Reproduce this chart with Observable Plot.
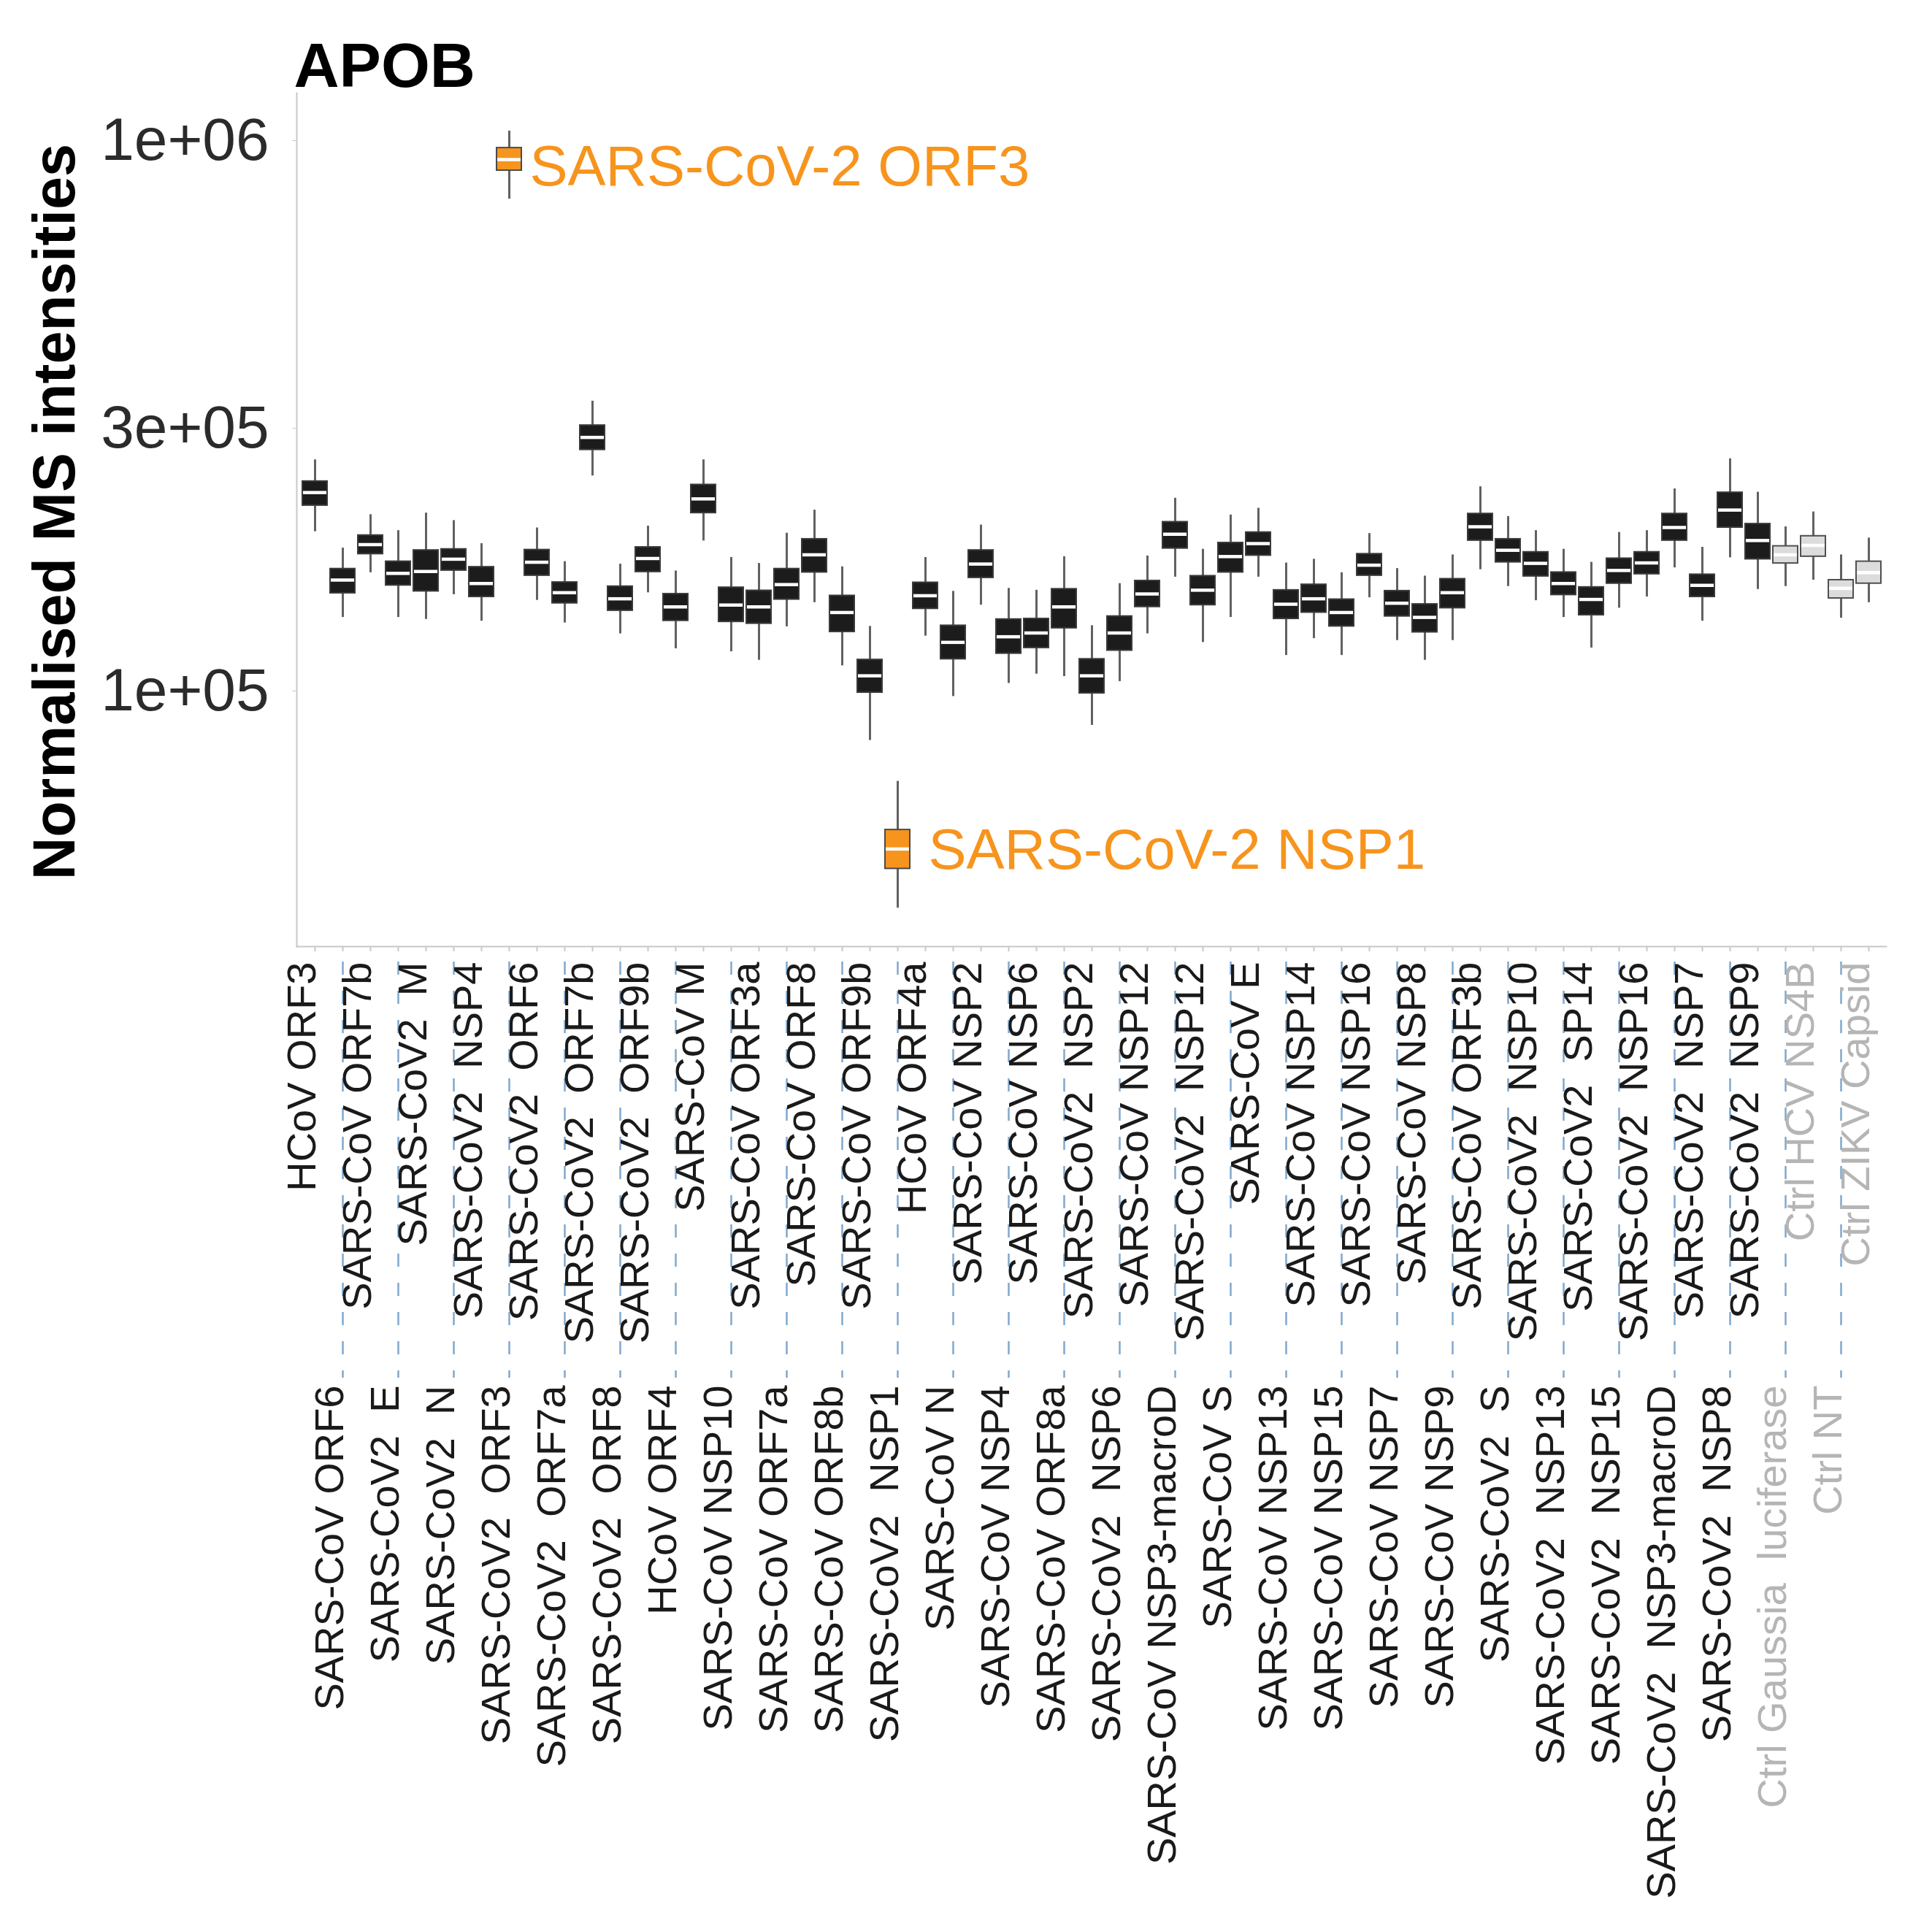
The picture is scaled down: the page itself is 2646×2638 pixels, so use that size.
<!DOCTYPE html>
<html>
<head>
<meta charset="utf-8">
<script src="https://cdn.jsdelivr.net/npm/d3@7"></script>
<script src="https://cdn.jsdelivr.net/npm/@observablehq/plot@0.6"></script>
<style>
  html, body { margin: 0; padding: 0; background: #ffffff; }
  svg text { white-space: pre; }
</style>
</head>
<body>
<div id="chart"></div>
<script>
// ---------------- data ----------------
const chartTitle = "APOB";
const yTitle = "Normalised MS intensities";

const categories = [
  "HCoV ORF3", "SARS-CoV ORF6", "SARS-CoV ORF7b", "SARS-CoV2  E", "SARS-CoV2  M",
  "SARS-CoV2  N", "SARS-CoV2  NSP4", "SARS-CoV2  ORF3", "SARS-CoV2  ORF6", "SARS-CoV2  ORF7a",
  "SARS-CoV2  ORF7b", "SARS-CoV2  ORF8", "SARS-CoV2  ORF9b", "HCoV ORF4", "SARS-CoV M",
  "SARS-CoV NSP10", "SARS-CoV ORF3a", "SARS-CoV ORF7a", "SARS-CoV ORF8", "SARS-CoV ORF8b",
  "SARS-CoV ORF9b", "SARS-CoV2  NSP1", "HCoV ORF4a", "SARS-CoV N", "SARS-CoV NSP2",
  "SARS-CoV NSP4", "SARS-CoV NSP6", "SARS-CoV ORF8a", "SARS-CoV2  NSP2", "SARS-CoV2  NSP6",
  "SARS-CoV NSP12", "SARS-CoV NSP3-macroD", "SARS-CoV2  NSP12", "SARS-CoV S", "SARS-CoV E",
  "SARS-CoV NSP13", "SARS-CoV NSP14", "SARS-CoV NSP15", "SARS-CoV NSP16", "SARS-CoV NSP7",
  "SARS-CoV NSP8", "SARS-CoV NSP9", "SARS-CoV ORF3b", "SARS-CoV2  S", "SARS-CoV2  NSP10",
  "SARS-CoV2  NSP13", "SARS-CoV2  SP14", "SARS-CoV2  NSP15", "SARS-CoV2  NSP16", "SARS-CoV2  NSP3-macroD",
  "SARS-CoV2  NSP7", "SARS-CoV2  NSP8", "SARS-CoV2  NSP9", "Ctrl Gaussia  luciferase", "Ctrl HCV NS4B",
  "Ctrl NT", "Ctrl ZIKV Capsid"
];

const whiskerHigh = [
  263000, 181800, 209100, 195600, 210500, 204000, 185200, 1041000, 197800, 171800,
  336200, 170000, 199300, 165200, 263000, 174800, 170500, 193500, 213100, 168100,
  131000, 68500, 174800, 151700, 200200, 153600, 152400, 175400, 131400, 156700,
  175900, 224000, 180900, 208800, 214800, 170800, 173500, 164000, 193200, 166900,
  161700, 176700, 235000, 207500, 195600, 180900, 171300, 194100, 195600, 232900,
  182400, 264200, 229700, 198700, 211500, 176700, 189600
];
const upperQuartile = [
  240300, 166600, 191700, 171800, 180100, 180900, 167900, 969800, 180400, 157500,
  303700, 154800, 182400, 150000, 236900, 154100, 152100, 166600, 188700, 148900,
  113900, 55900, 157300, 131400, 180100, 134900, 135200, 153100, 114200, 136600,
  158500, 202700, 161700, 185800, 194100, 152400, 156000, 146600, 177300, 151900,
  143700, 159700, 209800, 188700, 178700, 164200, 154300, 174000, 178700, 209800,
  162700, 229300, 201100, 183200, 191100, 159000, 171800
];
const medianValue = [
  229300, 159000, 184400, 163500, 164800, 173500, 156700, 923700, 171300, 150800,
  288800, 147000, 174000, 142100, 223300, 143200, 142100, 156000, 176700, 138800,
  106500, 51600, 148900, 122500, 170000, 125400, 127400, 142100, 106500, 127400,
  150000, 192600, 152400, 175400, 185200, 143700, 147000, 138800, 169200, 144300,
  136000, 150800, 198700, 180100, 170500, 156700, 146600, 165500, 170800, 198100,
  155500, 213100, 187600, 176700, 183800, 153600, 164000
];
const lowerQuartile = [
  217200, 150500, 177300, 155500, 151700, 165500, 148200, 882300, 162000, 144300,
  274200, 139900, 164500, 134100, 210500, 133500, 132500, 146600, 164200, 128000,
  99300, 47500, 141000, 114200, 160500, 116900, 119700, 130000, 99000, 118400,
  142100, 181500, 143200, 164200, 176200, 135200, 138800, 131000, 162000, 136600,
  127800, 141400, 187600, 171300, 161500, 149400, 137300, 156700, 163000, 187600,
  148200, 198100, 173500, 170500, 175400, 147300, 156700
];
const whiskerLow = [
  194700, 136000, 164000, 136000, 134900, 149600, 133900, 783100, 146100, 132900,
  245900, 127000, 150800, 119300, 187300, 117800, 113700, 130800, 144700, 111100,
  81300, 40300, 125800, 97700, 143200, 103200, 107300, 106200, 86600, 104000,
  127000, 161000, 122500, 136000, 161000, 116000, 124500, 116000, 147700, 123500,
  113700, 123500, 166100, 154800, 145900, 136000, 119700, 141400, 148200, 167400,
  133900, 174600, 152900, 154800, 159000, 135600, 144700
];

const highlightedCategories = ["SARS-CoV2  ORF3", "SARS-CoV2  NSP1"];
const annotationTexts = ["SARS-CoV-2 ORF3", "SARS-CoV-2 NSP1"];

const yDomain = [34300, 1220000];
const yTicks = [100000, 300000, 1000000];
const yTickLabels = ["1e+05", "3e+05", "1e+06"];

// ---------------- derived ----------------
const isControl = c => c.startsWith("Ctrl");
const groupOf = c => highlightedCategories.includes(c) ? "highlight" : isControl(c) ? "control" : "normal";
const stats = categories.map((cat, i) => ({
  cat, hi: whiskerHigh[i], q3: upperQuartile[i], med: medianValue[i],
  q1: lowerQuartile[i], lo: whiskerLow[i], group: groupOf(cat)
}));
const topRow = categories.filter((c, i) => i % 2 === 0);
const bottomRow = categories.filter((c, i) => i % 2 === 1);
const annotations = highlightedCategories.map((cat, i) => ({
  cat, text: annotationTexts[i], med: stats.find(d => d.cat === cat).med
}));

const ORANGE = "#F7941D";
const LABEL = "#1a1a1a";
const CTRL_LABEL = "#b5b5b5";
const AXIS = "#c8c8c8";
const FONT = "'Liberation Sans', Arial, Helvetica, sans-serif";
const labelSize = 56;

const chart = Plot.plot({
  width: 2646,
  height: 2638,
  marginTop: 127,
  marginLeft: 406,
  marginRight: 63,
  marginBottom: 1342,
  style: { fontFamily: FONT, background: "#ffffff", overflow: "visible" },
  x: { type: "band", domain: categories, paddingInner: 0.107, paddingOuter: 0.153, label: null },
  y: { type: "log", domain: yDomain, label: null },
  marks: [
    Plot.frame({ anchor: "left", stroke: AXIS, strokeWidth: 2 }),
    Plot.frame({ anchor: "bottom", stroke: AXIS, strokeWidth: 2 }),
    Plot.axisY(yTicks, {
      tickSize: 6, tickPadding: 32, stroke: AXIS, fill: "#2b2b2b", fontSize: 82,
      tickFormat: d => yTickLabels[yTicks.indexOf(d)], label: null
    }),
    Plot.axisX(categories, { tickSize: 7, stroke: AXIS, strokeWidth: 2, tickFormat: () => "", label: null }),
    Plot.axisX(bottomRow, {
      tickSize: 591, stroke: "#7fa8cf", strokeWidth: 2.5, strokeDasharray: "18,22",
      strokeDashoffset: 19, tickFormat: () => "", label: null
    }),
    // category labels, two staggered rows
    Plot.text(topRow.filter(c => !isControl(c)), {
      x: d => d, text: d => d, frameAnchor: "bottom", dy: 21, rotate: -90,
      textAnchor: "end", fontSize: labelSize, fill: LABEL
    }),
    Plot.text(topRow.filter(isControl), {
      x: d => d, text: d => d, frameAnchor: "bottom", dy: 21, rotate: -90,
      textAnchor: "end", fontSize: labelSize, fill: CTRL_LABEL
    }),
    Plot.text(bottomRow.filter(c => !isControl(c)), {
      x: d => d, text: d => d, frameAnchor: "bottom", dy: 601, rotate: -90,
      textAnchor: "end", fontSize: labelSize, fill: LABEL
    }),
    Plot.text(bottomRow.filter(isControl), {
      x: d => d, text: d => d, frameAnchor: "bottom", dy: 601, rotate: -90,
      textAnchor: "end", fontSize: labelSize, fill: CTRL_LABEL
    }),
    // titles
    Plot.text([chartTitle], {
      text: d => d, frameAnchor: "top-left", textAnchor: "start", lineAnchor: "bottom",
      dx: -4, dy: -9, fontSize: 86, fontWeight: "bold", fill: "#000"
    }),
    Plot.text([yTitle], {
      text: d => d, frameAnchor: "left", textAnchor: "middle", lineAnchor: "middle",
      rotate: -90, dx: -330, dy: -11,
      fontSize: 81, fontWeight: "bold", fill: "#000"
    }),
    // boxplots
    Plot.ruleX(stats, { x: "cat", y1: "lo", y2: "hi", stroke: "#616161", strokeWidth: 3 }),
    Plot.barY(stats, {
      filter: d => d.group === "normal", x: "cat", y1: "q1", y2: "q3",
      fill: "#1c1c1c", stroke: "#3a3a3a", strokeWidth: 2
    }),
    Plot.barY(stats, {
      filter: d => d.group === "highlight", x: "cat", y1: "q1", y2: "q3",
      fill: ORANGE, stroke: "#4a4a4a", strokeWidth: 2
    }),
    Plot.barY(stats, {
      filter: d => d.group === "control", x: "cat", y1: "q1", y2: "q3",
      fill: "#dcdcdc", stroke: "#505050", strokeWidth: 2
    }),
    Plot.tickY(stats, {
      x: "cat", y: "med", stroke: "#ffffff", strokeWidth: 4.5, insetLeft: 1, insetRight: 1
    }),
    // annotations
    Plot.text(annotations.slice(0, 1), {
      x: "cat", y: "med", text: "text", textAnchor: "start", dx: 28, dy: 10,
      fontSize: 78, fill: ORANGE
    }),
    Plot.text(annotations.slice(1, 2), {
      x: "cat", y: "med", text: "text", textAnchor: "start", dx: 42, dy: 2,
      fontSize: 78, fill: ORANGE
    })
  ]
});

document.getElementById("chart").appendChild(chart);
</script>
</body>
</html>
